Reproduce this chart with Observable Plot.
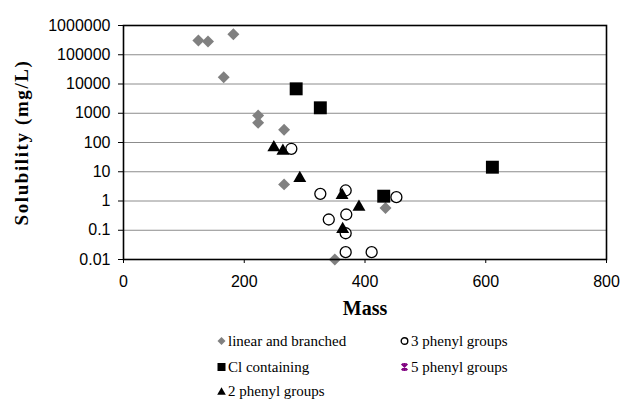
<!DOCTYPE html>
<html><head><meta charset="utf-8">
<script src="https://cdn.jsdelivr.net/npm/d3@7"></script>
<script src="https://cdn.jsdelivr.net/npm/@observablehq/plot@0.6"></script>
<style>
body{margin:0;background:#fff;}
#chart{position:relative;width:625px;height:402px;overflow:hidden;}
.leg{position:absolute;display:flex;align-items:center;font-family:"Liberation Serif","Times New Roman",serif;font-size:15px;color:#000;white-space:nowrap;line-height:1;transform:translateY(-50%);}
.leg svg{margin-right:2px;}
</style></head><body><div id="chart"></div>
<script>
// ---- data ----
const linearMass = [124, 140, 182, 166, 223, 223, 266, 266, 350, 434];
const linearSol  = [307000, 284000, 505000, 17000, 838, 472, 272, 3.7, 0.01, 0.58];
const clMass = [286, 326, 431, 611];
const clSol  = [6840, 1535, 1.46, 14.3];
const phenyl2Mass = [249, 264, 292, 362, 390, 363];
const phenyl2Sol  = [79, 60, 7.0, 1.83, 0.73, 0.127];
const phenyl3Mass = [278, 326, 368, 452, 369, 340, 368, 368, 411];
const phenyl3Sol  = [61, 1.76, 2.29, 1.35, 0.345, 0.233, 0.079, 0.0178, 0.0178];
const phenyl5Mass = [];
const phenyl5Sol  = [];
const seriesNames = ["linear and branched", "Cl containing", "2 phenyl groups", "3 phenyl groups", "5 phenyl groups"];
const xTicks = [0, 200, 400, 600, 800];
const yTicks = [0.01, 0.1, 1, 10, 100, 1000, 10000, 100000, 1000000];
const yTickLabels = ["0.01", "0.1", "1", "10", "100", "1000", "10000", "100000", "1000000"];
const xTitle = "Mass";
const yTitle = "Solubility (mg/L)";

const rows = (ms, ss) => ms.map((m, i) => ({m, s: ss[i]}));
const serif = '"Liberation Serif","Times New Roman",serif';

const plot = Plot.plot({
  width: 625, height: 322,
  marginLeft: 123, marginRight: 19, marginTop: 25, marginBottom: 63,
  style: {fontFamily: '"Liberation Sans",Arial,sans-serif', fontSize: "16px", background: "white", color: "black", overflow: "visible"},
  x: {domain: [0, 800], ticks: xTicks, label: null, tickSize: 4, tickPadding: 12},
  y: {type: "log", domain: [0.01, 1e6], ticks: yTicks, label: null, tickSize: 5, tickPadding: 8,
      tickFormat: d => yTickLabels[yTicks.findIndex(t => Math.abs(Math.log10(t) - Math.log10(d)) < 1e-6)]},
  marks: [
    Plot.ruleY(yTicks.slice(1, -1), {stroke: "#8c8c8c", strokeWidth: 1}),
    Plot.dot(rows(linearMass, linearSol), {x: "m", y: "s", symbol: "diamond2", r: 5.4, fill: "#808080", stroke: "none"}),
    Plot.dot(rows(clMass, clSol), {x: "m", y: "s", symbol: "square", r: 7.3, fill: "black", stroke: "none"}),
    Plot.dot(rows(phenyl3Mass, phenyl3Sol), {x: "m", y: "s", symbol: "circle", r: 5.5, fill: "white", stroke: "black", strokeWidth: 1.3}),
    Plot.dot(rows(phenyl2Mass, phenyl2Sol), {x: "m", y: "s", symbol: "triangle", r: 4.8, dy: 2, fill: "black", stroke: "none"}),
    Plot.dot(rows(phenyl5Mass, phenyl5Sol), {x: "m", y: "s", symbol: "asterisk", r: 5, stroke: "#800080", strokeWidth: 1.5}),
    Plot.frame({stroke: "black", strokeWidth: 1.6}),
    Plot.text([xTitle], {frameAnchor: "bottom", dy: 49, text: d => d, fontFamily: serif, fontWeight: "bold", fontSize: 20, textAnchor: "middle", lineAnchor: "middle"}),
    Plot.text([yTitle], {frameAnchor: "left", dx: -102, rotate: -90, text: d => d, fontFamily: serif, fontWeight: "bold", fontSize: 19, textAnchor: "middle", lineAnchor: "middle"})
  ]
});
plot.style.position = "absolute";
plot.style.left = "0";
plot.style.top = "0";
const chart = document.getElementById("chart");
chart.appendChild(plot);
d3.select(plot).selectAll("text").filter(function(){ return this.textContent === yTitle; }).style("letter-spacing", "1.6px");

// ---- legend ----
const legendSymbols = [
  {name: seriesNames[0], col: 0, row: 0, draw: g => g.append("path").attr("d", "M4.5,0.5L8.5,4.5L4.5,8.5L0.5,4.5Z").attr("fill", "#808080")},
  {name: seriesNames[1], col: 0, row: 1, draw: g => g.append("rect").attr("x", 0.5).attr("y", 0.5).attr("width", 8).attr("height", 8).attr("fill", "black")},
  {name: seriesNames[2], col: 0, row: 2, draw: g => g.append("path").attr("d", "M4.5,0.8L8.8,8.3L0.2,8.3Z").attr("fill", "black")},
  {name: seriesNames[3], col: 1, row: 0, draw: g => g.append("circle").attr("cx", 4.5).attr("cy", 4.5).attr("r", 3.3).attr("fill", "white").attr("stroke", "black").attr("stroke-width", 1.4)},
  {name: seriesNames[4], col: 1, row: 1, draw: g => g.append("path").attr("d", "M1.5,1.5L7.5,7.5M7.5,1.5L1.5,7.5M4.5,0.5V8.5M2,1.5H7M2,7.5H7").attr("stroke", "#800080").attr("stroke-width", 1.5).attr("fill", "none")}
];
const colX = [217, 400];
const rowY = [341, 367, 391];
legendSymbols.forEach(s => {
  const div = d3.select(chart).append("div").attr("class", "leg")
    .style("left", colX[s.col] + "px").style("top", rowY[s.row] + "px");
  const svg = div.append("svg").attr("width", 9).attr("height", 9);
  s.draw(svg);
  div.append("span").text(s.name);
});
</script></body></html>
